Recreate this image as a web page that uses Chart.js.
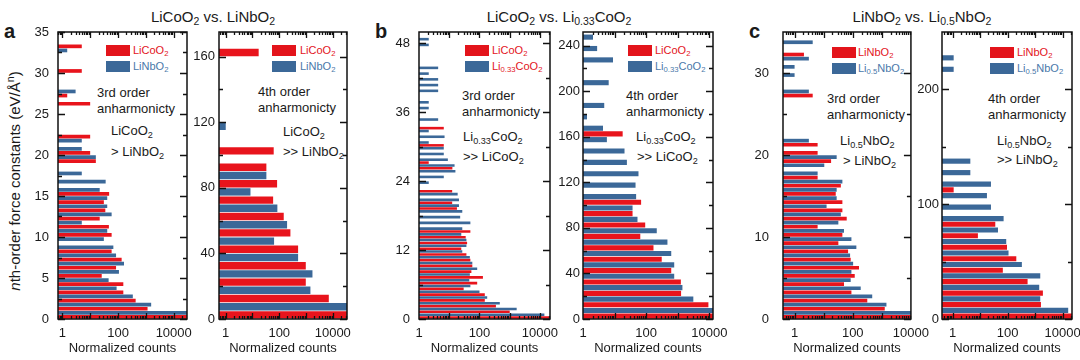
<!DOCTYPE html>
<html>
<head>
<meta charset="utf-8">
<script src="https://cdn.jsdelivr.net/npm/chart.js@4.4.1/dist/chart.umd.min.js"></script>
<style>
body { margin: 0; width: 1080px; height: 360px; background: #fff; position: relative; overflow: hidden;
       font-family: Arial, "Liberation Sans", sans-serif; color: #1a1a1a; }
canvas { position: absolute; top: 0; }
.t { position: absolute; white-space: nowrap; line-height: 1; }
.t sub { font-size: 70%; vertical-align: -0.3em; line-height: 0; }
.title { font-size: 15px; transform: translateX(-50%); top: 9px; }
.letter { font-size: 20px; font-weight: bold; top: 21px; }
.note { font-size: 13px; }
.sw { position: absolute; width: 24px; height: 11px; }
.lg { font-size: 11px; }
.red { color: #e3141b; }
.blue { color: #4a78aa; }
#ytitle { position: absolute; left: 13px; top: 181px; font-size: 15px; white-space: nowrap;
          transform: translate(-50%, -50%) rotate(-90deg); }
</style>
</head>
<body>

<div class="t letter" style="left:4px">a</div>
<div class="t letter" style="left:375px">b</div>
<div class="t letter" style="left:749px">c</div>

<div class="t title" style="left:213px">LiCoO<sub>2</sub> vs. LiNbO<sub>2</sub></div>
<div class="t title" style="left:559px">LiCoO<sub>2</sub> vs. Li<sub>0.33</sub>CoO<sub>2</sub></div>
<div class="t title" style="left:922px">LiNbO<sub>2</sub> vs. Li<sub>0.5</sub>NbO<sub>2</sub></div>

<div id="ytitle"><i>n</i>th-order force constants (eV/Å<sup style="font-size:70%">n</sup>)</div>

<!-- legends -->
<div class="sw" style="left:106px;top:45px;background:#e3141b"></div>
<div class="sw" style="left:106px;top:61px;background:#3b6898"></div>
<div class="t lg red" style="left:133px;top:45px">LiCoO<sub>2</sub></div>
<div class="t lg blue" style="left:133px;top:61px">LiNbO<sub>2</sub></div>

<div class="sw" style="left:272px;top:45px;background:#e3141b"></div>
<div class="sw" style="left:272px;top:61px;background:#3b6898"></div>
<div class="t lg red" style="left:300px;top:45px">LiCoO<sub>2</sub></div>
<div class="t lg blue" style="left:300px;top:61px">LiNbO<sub>2</sub></div>

<div class="sw" style="left:465px;top:45px;background:#e3141b"></div>
<div class="sw" style="left:465px;top:61px;background:#3b6898"></div>
<div class="t lg red" style="left:492px;top:45px">LiCoO<sub>2</sub></div>
<div class="t lg red" style="left:492px;top:61px">Li<sub>0.33</sub>CoO<sub>2</sub></div>

<div class="sw" style="left:628px;top:45px;background:#e3141b"></div>
<div class="sw" style="left:628px;top:61px;background:#3b6898"></div>
<div class="t lg red" style="left:655px;top:45px">LiCoO<sub>2</sub></div>
<div class="t lg blue" style="left:655px;top:61px">Li<sub>0.33</sub>CoO<sub>2</sub></div>

<div class="sw" style="left:832px;top:47px;background:#e3141b"></div>
<div class="sw" style="left:832px;top:63px;background:#3b6898"></div>
<div class="t lg red" style="left:858px;top:47px">LiNbO<sub>2</sub></div>
<div class="t lg blue" style="left:858px;top:63px">Li<sub>0.5</sub>NbO<sub>2</sub></div>

<div class="sw" style="left:990px;top:47px;background:#e3141b"></div>
<div class="sw" style="left:990px;top:63px;background:#3b6898"></div>
<div class="t lg red" style="left:1017px;top:47px">LiNbO<sub>2</sub></div>
<div class="t lg blue" style="left:1017px;top:63px">Li<sub>0.5</sub>NbO<sub>2</sub></div>

<!-- notes -->
<div class="t note" style="left:97px;top:86px">3rd order</div>
<div class="t note" style="left:97px;top:102px">anharmonicty</div>
<div class="t note" style="left:111px;top:124px">LiCoO<sub>2</sub></div>
<div class="t note" style="left:111px;top:145px">&gt; LiNbO<sub>2</sub></div>

<div class="t note" style="left:258px;top:85px">4th order</div>
<div class="t note" style="left:258px;top:101px">anharmonicty</div>
<div class="t note" style="left:283px;top:125px">LiCoO<sub>2</sub></div>
<div class="t note" style="left:283px;top:145px">&gt;&gt; LiNbO<sub>2</sub></div>

<div class="t note" style="left:462px;top:89px">3rd order</div>
<div class="t note" style="left:462px;top:105px">anharmonicty</div>
<div class="t note" style="left:463px;top:130px">Li<sub>0.33</sub>CoO<sub>2</sub></div>
<div class="t note" style="left:463px;top:150px">&gt;&gt; LiCoO<sub>2</sub></div>

<div class="t note" style="left:626px;top:89px">4th order</div>
<div class="t note" style="left:626px;top:105px">anharmonicty</div>
<div class="t note" style="left:636px;top:130px">Li<sub>0.33</sub>CoO<sub>2</sub></div>
<div class="t note" style="left:637px;top:150px">&gt;&gt; LiCoO<sub>2</sub></div>

<div class="t note" style="left:827px;top:92px">3rd order</div>
<div class="t note" style="left:827px;top:108px">anharmonicty</div>
<div class="t note" style="left:840px;top:134px">Li<sub>0.5</sub>NbO<sub>2</sub></div>
<div class="t note" style="left:843px;top:154px">&gt; LiNbO<sub>2</sub></div>

<div class="t note" style="left:988px;top:92px">4th order</div>
<div class="t note" style="left:988px;top:108px">anharmonicty</div>
<div class="t note" style="left:997px;top:134px">Li<sub>0.5</sub>NbO<sub>2</sub></div>
<div class="t note" style="left:997px;top:153px">&gt;&gt; LiNbO<sub>2</sub></div>

<script>
// lower bin edges and counts per bin (0 = no bar)
const binsA3 = [0,1,2,3,4,5,6,7,8,9,10,11,12,13,14,15,16,17,18,19,20,21,22,23,24,25,26,27,28,29,30,31,32,33,34];
const redA3  = [40000,1150,430,155,155,26,85,135,59,0,59,47,22,35,31,48,0,0,0,16,10,0,10,0,0,0,10,1.5,0,0,5,0,0,5,0];
const blueA3 = [40000,1550,340,89,46,108,164,85,68,31,41,5,59,41,41,22,36,5,0,16,5,5,0,0,0,0,0,3,0,0,0,0,1.5,0,0];

const binsA4 = [0,10,20,30,40,50,60,70,80,90,100,110,120,130,140,150,160,170];
const redA4  = [40000,7100,980,980,506,261,147,59,83,33,62,0,0,0,0,0,17,0];
const blueA4 = [40000,1460,1740,506,64,196,85,8.4,33,0,0,1,0,0,0,0,0,0];

const binsB3 = [0,1,2,3,4,5,6,7,8,9,10,11,12,13,14,15,16,17,18,19,20,21,22,23,24,
                25,26,27,28,29,30,31,32,33,34,35,36,37,38,39,40,41,42,43,44,45,46,47,48,49];
const redB3  = [30000,1000,350,150,150,30,84,130,54,58, 50,37,25,39,35,50,0,0,0,18,
                12.5,0,12.5,0,0,0,12.7,2.1,0,0, 6.6,0,0,6.6,0,0,0,0,0,0, 0,0,0,0,0,0,0,0,0,0];
const blueB3 = [14000,1700,470,180,100,50,46,48,84,58, 48,27,37,37,25,27,50,23,27,21,
                21,19,0,2.1,6.6,16,15,9,6.6,6.6, 2.1,7,2.1,0,4.3,0,2.1,2.1,0,4.3, 4.3,4.3,2.1,4.3,0,0,0,2.1,2.1,0];

const binsB4 = [0,10,20,30,40,50,60,70,80,90,100,110,120,130,140,150,160,170,180,190,200,210,220,230,240];
const redB4  = [30000,9300,1270,1250,620,310,170,65,93,37,69,0,0,0,0,0,18,0,0,0,0,0,0,0,0];
const blueB4 = [30000,3100,1400,770,770,620,470,216,53,37,48,46,57,24.5,20.6,5.7,4.3,1.34,4.7,0,6.5,0,8.9,2.8,2.07];

const binsC3 = [0,1,2,3,4,5,6,7,8,9,10,11,12,13,14,15,16,17,18,19,20,21,22,23,24,25,26,27,28,29,30,31,32,33,34];
const redC3  = [20000,1260,316,90,50,117,164,85,69,32, 44,6.2,62,44,44,26,39,6.2,0,18, 6.2,6.2,0,0,0,0,0,4.2,0,0, 0,0,2.1,0,0];
const blueC3 = [20000,1440,467,188,85,90,103,81,133,90, 50,32,39,12.6,28,28,44,6.2,10.5,28, 0,3.1,0,0,0,0,0,3.1,0,1, 1,3.1,0,4.2,0];

const binsC4 = [0,10,20,30,40,50,60,70,80,90,100,110,120,130,140,150,160,170,180,190,200,210,220,230,240];
const redC4  = [30000,1630,1920,533,67,207,95,8.3,35.6,0, 0,1.09,0,0,0,0,0,0,0,0, 0,0,0,0,0];
const blueC4 = [16000,1540,1410,1540,330,108,89,44.6,71.5,24.8, 17.7,24.8,4.4,4.4,0,0,0,0,0,0, 0,1.09,1.09,0,0];

// tick labels
const xTicks = [1, 100, 10000];
const ticksA3 = [0,5,10,15,20,25,30,35],   minorA3 = [2.5,7.5,12.5,17.5,22.5,27.5,32.5];
const ticksA4 = [0,40,80,120,160],          minorA4 = [20,60,100,140];
const ticksB3 = [0,12,24,36,48],            minorB3 = [6,18,30,42];
const ticksB4 = [0,40,80,120,160,200,240],  minorB4 = [20,60,100,140,180,220];
const ticksC3 = [0,10,20,30],               minorC3 = [5,15,25];
const ticksC4 = [0,100,200],                minorC4 = [50,150];

const RED = '#e8141c';
const BLUE = '#3b6898';

const panels = [
  { left: 58,  right: 187, yMax: 35,  binW: 1,  xMin: 0.7,  xMax: 30000, pad: 9,  bins: binsA3, red: redA3, blue: blueA3, ticks: ticksA3, minor: minorA3 },
  { left: 219, right: 347, yMax: 175, binW: 10, xMin: 0.56, xMax: 34000, pad: 4,  bins: binsA4, red: redA4, blue: blueA4, ticks: ticksA4, minor: minorA4 },
  { left: 419, right: 550, yMax: 50,  binW: 1,  xMin: 1,    xMax: 21500, pad: 9,  bins: binsB3, red: redB3, blue: blueB3, ticks: ticksB3, minor: minorB3 },
  { left: 583, right: 713, yMax: 252, binW: 10, xMin: 1,    xMax: 13000, pad: 3,  bins: binsB4, red: redB4, blue: blueB4, ticks: ticksB4, minor: minorB4 },
  { left: 783, right: 912, yMax: 35,  binW: 1,  xMin: 0.4,  xMax: 10000, pad: 14, bins: binsC3, red: redC3, blue: blueC3, ticks: ticksC3, minor: minorC3 },
  { left: 942, right: 1072,yMax: 250, binW: 10, xMin: 0.41, xMax: 22000, pad: 3,  bins: binsC4, red: redC4, blue: blueC4, ticks: ticksC4, minor: minorC4 }
];

Chart.defaults.font.family = 'Arial, "Liberation Sans", sans-serif';
Chart.defaults.font.size = 13;
Chart.defaults.color = '#1a1a1a';

const Y_AXIS_W = 45;
const RIGHT_PAD = 24;

// inward ticks on all four sides plus the box
function frame(p) {
  return {
    id: 'frame',
    afterDatasetsDraw(chart) {
      const { ctx, chartArea: a, scales: { x, y } } = chart;
      ctx.save();
      ctx.strokeStyle = '#111';
      ctx.lineWidth = 1.3;
      ctx.beginPath();
      const yTick = (v, len) => {
        const py = Math.round(y.getPixelForValue(v)) + 0.5;
        ctx.moveTo(a.left, py); ctx.lineTo(a.left + len, py);
        ctx.moveTo(a.right, py); ctx.lineTo(a.right - len, py);
      };
      p.ticks.forEach(v => yTick(v, 7));
      p.minor.forEach(v => yTick(v, 4));
      const d0 = Math.floor(Math.log10(p.xMin)), d1 = Math.ceil(Math.log10(p.xMax));
      for (let d = d0; d <= d1; d++) {
        for (let m = 1; m <= 9; m++) {
          const v = m * Math.pow(10, d);
          if (v <= p.xMin || v >= p.xMax) continue;
          const px = Math.round(x.getPixelForValue(v)) + 0.5;
          const len = m === 1 ? 6 : 3;
          ctx.moveTo(px, a.top); ctx.lineTo(px, a.top + len);
          ctx.moveTo(px, a.bottom); ctx.lineTo(px, a.bottom - len);
        }
      }
      ctx.stroke();
      ctx.lineWidth = 1.5;
      ctx.strokeRect(a.left, a.top, a.right - a.left, a.bottom - a.top);
      ctx.restore();
    }
  };
}

panels.forEach(p => {
  const cv = document.createElement('canvas');
  const w = (p.right - p.left) + Y_AXIS_W + RIGHT_PAD;
  cv.width = w;
  cv.height = 360;
  cv.style.left = (p.left - Y_AXIS_W) + 'px';
  document.body.appendChild(cv);

  new Chart(cv, {
    type: 'bar',
    data: {
      labels: p.bins.map(e => e + p.binW / 2),
      datasets: [
        { data: p.blue.map(v => v || null), backgroundColor: BLUE, categoryPercentage: 1, barPercentage: 0.9 },
        { data: p.red.map(v => v || null), backgroundColor: RED, categoryPercentage: 1, barPercentage: 0.9 }
      ]
    },
    options: {
      indexAxis: 'y',
      responsive: false,
      animation: false,
      layout: { padding: { top: 32, right: RIGHT_PAD, left: 0, bottom: 0 } },
      plugins: { legend: { display: false }, tooltip: { enabled: false } },
      scales: {
        x: {
          type: 'logarithmic',
          min: p.xMin,
          max: p.xMax,
          grid: { display: false, drawTicks: false },
          border: { display: false },
          afterBuildTicks: s => { s.ticks = xTicks.map(v => ({ value: v })); },
          afterFit: s => { s.height = 41; },
          ticks: { padding: 7, maxRotation: 0, autoSkip: false, callback: v => String(v) },
          title: { display: true, text: 'Normalized counts', padding: { top: 0, bottom: 4 } }
        },
        y: {
          type: 'linear',
          min: 0,
          max: p.yMax,
          offset: false,
          grid: { display: false, drawTicks: false },
          border: { display: false },
          afterBuildTicks: s => { s.ticks = p.ticks.map(v => ({ value: v })); },
          afterFit: s => { s.width = Y_AXIS_W; },
          ticks: { padding: p.pad, autoSkip: false }
        }
      }
    },
    plugins: [frame(p)]
  });
});
</script>
</body>
</html>
